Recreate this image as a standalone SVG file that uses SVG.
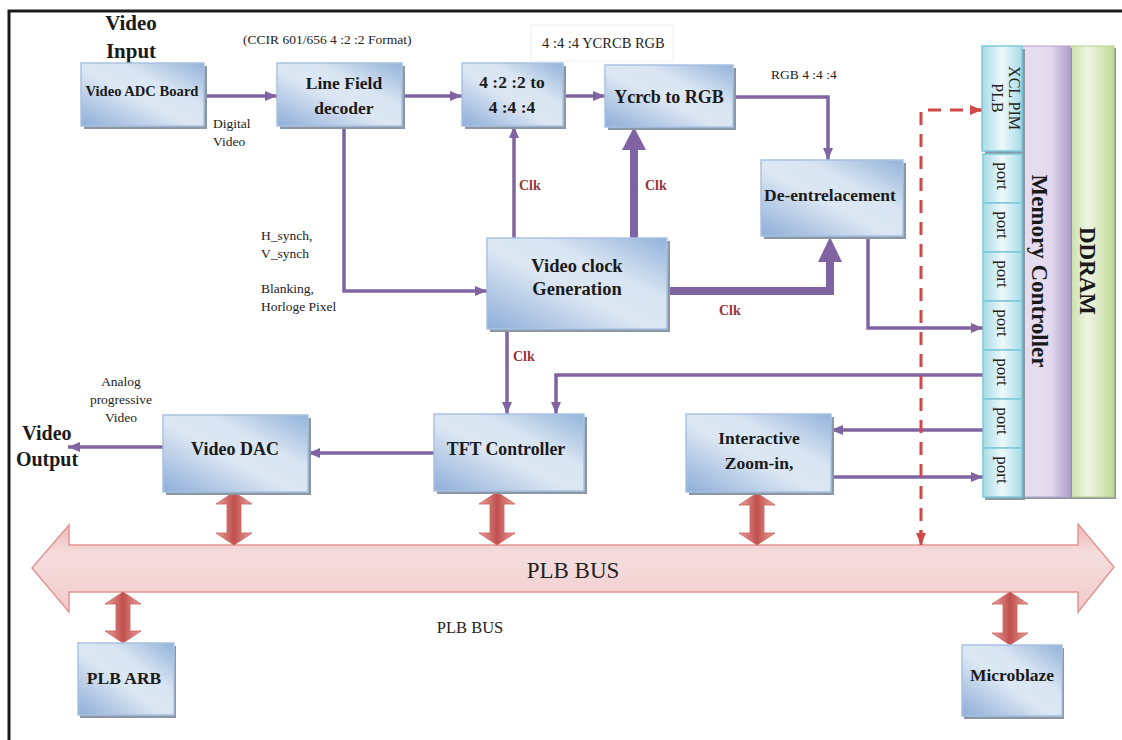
<svg xmlns="http://www.w3.org/2000/svg" width="1122" height="740" viewBox="0 0 1122 740">
<defs>
<linearGradient id="gBox" x1="0" y1="1" x2="1" y2="0">
<stop offset="0" stop-color="#8eadd8"/><stop offset="0.45" stop-color="#dce7f3"/><stop offset="0.65" stop-color="#d9e5f2"/><stop offset="1" stop-color="#92b2da"/>
</linearGradient>
<linearGradient id="gPort" x1="0" y1="0" x2="1" y2="0">
<stop offset="0" stop-color="#a6dbe6"/><stop offset="0.5" stop-color="#eef9fb"/><stop offset="1" stop-color="#a6dbe6"/>
</linearGradient>
<linearGradient id="gMem" x1="0" y1="0" x2="1" y2="0">
<stop offset="0" stop-color="#e6def0"/><stop offset="0.6" stop-color="#e2d9ee"/><stop offset="1" stop-color="#b09dca"/>
</linearGradient>
<linearGradient id="gDdr" x1="0" y1="0" x2="1" y2="0">
<stop offset="0" stop-color="#c9dea6"/><stop offset="0.4" stop-color="#eef5e3"/><stop offset="1" stop-color="#c3da98"/>
</linearGradient>
<linearGradient id="gRed" x1="0" y1="0" x2="1" y2="0">
<stop offset="0" stop-color="#e9a2a0"/><stop offset="0.5" stop-color="#c0504d"/><stop offset="1" stop-color="#e9a2a0"/>
</linearGradient>
<linearGradient id="gBus" x1="0" y1="0" x2="0" y2="1">
<stop offset="0" stop-color="#eeb8b8"/><stop offset="0.35" stop-color="#f6dede"/><stop offset="1" stop-color="#f1caca"/>
</linearGradient>
<marker id="ah" viewBox="0 0 12 10" refX="12" refY="5" markerWidth="12" markerHeight="10" markerUnits="userSpaceOnUse" orient="auto">
<path d="M0,0 L12,5 L0,10 z" fill="#8064a2"/>
</marker>
<marker id="ahr" viewBox="0 0 12 10" refX="12" refY="5" markerWidth="12" markerHeight="10" markerUnits="userSpaceOnUse" orient="auto">
<path d="M0,0 L12,5 L0,10 z" fill="#d04848"/>
</marker>
<style>
text{font-family:"Liberation Serif","Times New Roman",Tinos,"DejaVu Serif",serif}
.box{fill:url(#gBox);stroke:#a9c2e2;stroke-width:1.5}
.sh{fill:#8c97a6}
.lbl{font-weight:bold;fill:#1a1a1a;text-anchor:middle;font-size:17.5px}
.t{fill:#222;font-size:13.5px}
.clk{font-weight:bold;fill:#9b3333;font-size:14px}
.c{fill:none;stroke:#8064a2;stroke-width:3.5}
.thick{fill:none;stroke:#8064a2;stroke-width:8}
.port{fill:url(#gPort);stroke:#7cc8d8;stroke-width:1.5}
.pt{font-size:17px;fill:#222;text-anchor:middle}
.dbl{fill:url(#gRed);stroke:#c9605c;stroke-width:0.8}
</style>
</defs>

<!-- frame -->
<path d="M9,740 V11 H1122" fill="none" stroke="#1a1a1a" stroke-width="3"/>

<!-- free texts -->
<g id="labels">
<text class="lbl" x="131" y="30" style="font-size:21px">Video</text>
<text class="lbl" x="131" y="58" style="font-size:21px">Input</text>
<text class="t" x="243" y="44">(CCIR 601/656 4 :2 :2 Format)</text>
<rect x="531" y="25" width="142" height="36" fill="#fff" stroke="#eeeeee"/>
<text class="t" x="542" y="48" style="font-size:14.5px">4 :4 :4  YCRCB RGB</text>
<text class="t" x="771" y="79">RGB 4 :4 :4</text>
<text class="t" x="213" y="128">Digital</text>
<text class="t" x="213" y="146">Video</text>
<text class="t" x="261" y="240">H_synch,</text>
<text class="t" x="261" y="258">V_synch</text>
<text class="t" x="261" y="293">Blanking,</text>
<text class="t" x="261" y="311">Horloge Pixel</text>
<text class="t" x="121" y="386" text-anchor="middle">Analog</text>
<text class="t" x="121" y="404" text-anchor="middle">progressive</text>
<text class="t" x="121" y="422" text-anchor="middle">Video</text>
<text class="lbl" x="47" y="440" style="font-size:20px">Video</text>
<text class="lbl" x="47" y="466" style="font-size:20px">Output</text>
<text class="clk" x="519" y="190">Clk</text>
<text class="clk" x="645" y="190">Clk</text>
<text class="clk" x="719" y="315">Clk</text>
<text class="clk" x="513" y="361">Clk</text>
<text class="t" x="470" y="633" text-anchor="middle" style="font-size:16.5px">PLB BUS</text>
</g>

<!-- PLB bus -->
<g id="plb-bus">
<path d="M32,568 L69,525 L69,545 L1078,545 L1078,524 L1114,567 L1078,612 L1078,592 L69,592 L69,612 Z" fill="url(#gBus)" stroke="#e49494" stroke-width="1.5"/>
<text x="573" y="578" font-size="23" fill="#222" text-anchor="middle">PLB BUS</text>
</g>

<!-- connectors -->
<g id="connectors">
<path class="c" d="M204,96 H277" marker-end="url(#ah)"/>
<path class="c" d="M402,96 H462" marker-end="url(#ah)"/>
<path class="c" d="M563,96 H605" marker-end="url(#ah)"/>
<path class="c" d="M733,97 H828 V160" marker-end="url(#ah)"/>
<path class="c" d="M344,126 V291 H487" marker-end="url(#ah)"/>
<path class="c" d="M514,238 V126" marker-end="url(#ah)"/>
<path class="thick" d="M634,238 V148"/>
<path d="M622,150 L634,127 L646,150 Z" fill="#8064a2"/>
<path class="thick" d="M667,291 H830 V258"/>
<path d="M818,262 L830,237 L842,262 Z" fill="#8064a2"/>
<path class="c" d="M868,236 V328 H983" marker-end="url(#ah)"/>
<path class="c" d="M983,375 H556 V414" marker-end="url(#ah)"/>
<path class="c" d="M507,329 V414" marker-end="url(#ah)"/>
<path class="c" d="M434,453 H308" marker-end="url(#ah)"/>
<path class="c" d="M163,447 H68" marker-end="url(#ah)"/>
<path class="c" d="M983,430 H831" marker-end="url(#ah)"/>
<path class="c" d="M831,477 H983" marker-end="url(#ah)"/>
<path d="M921,543 V110 H982" fill="none" stroke="#d04848" stroke-width="3" stroke-dasharray="13,9"/>
<path d="M921,530 V545" fill="none" stroke="#d04848" stroke-width="3" marker-end="url(#ahr)"/>
<path d="M970,110 H982" fill="none" stroke="#d04848" stroke-width="3" marker-end="url(#ahr)"/>
<!-- bus double arrows -->
<path class="dbl" d="M234,492 L252,504 L241,504 L241,533 L252,533 L234,545 L216,533 L227,533 L227,504 L216,504 Z"/>
<path class="dbl" d="M497,492 L515,504 L504,504 L504,533 L515,533 L497,545 L479,533 L490,533 L490,504 L479,504 Z"/>
<path class="dbl" d="M757,493 L775,505 L764,505 L764,533 L775,533 L757,545 L739,533 L750,533 L750,505 L739,505 Z"/>
<path class="dbl" d="M123,592 L141,604 L130,604 L130,631 L141,631 L123,643 L105,631 L116,631 L116,604 L105,604 Z"/>
<path class="dbl" d="M1010,592 L1028,604 L1017,604 L1017,633 L1028,633 L1010,645 L992,633 L1003,633 L1003,604 L992,604 Z"/>
</g>

<!-- nodes -->
<g id="video-adc">
<rect class="sh" x="84" y="66" width="123" height="63"/>
<rect class="box" x="81" y="63" width="123" height="63"/>
<text class="lbl" x="142" y="96" style="font-size:14.6px">Video ADC Board</text>
</g>
<g id="line-field">
<rect class="sh" x="280" y="66" width="125" height="63"/>
<rect class="box" x="277" y="63" width="125" height="63"/>
<text class="lbl" x="344" y="89">Line Field</text>
<text class="lbl" x="344" y="114">decoder</text>
</g>
<g id="conv422">
<rect class="sh" x="465" y="66" width="101" height="63"/>
<rect class="box" x="462" y="63" width="101" height="63"/>
<text class="lbl" x="512" y="88">4 :2 :2 to</text>
<text class="lbl" x="512" y="113">4 :4 :4</text>
</g>
<g id="ycrcb">
<rect class="sh" x="608" y="68" width="128" height="62"/>
<rect class="box" x="605" y="65" width="128" height="62"/>
<text class="lbl" x="669" y="103" style="font-size:18px">Ycrcb to RGB</text>
</g>
<g id="deinterlace">
<rect class="sh" x="764" y="163" width="142" height="76"/>
<rect class="box" x="761" y="160" width="142" height="76"/>
<text class="lbl" x="830" y="201">De-entrelacement</text>
</g>
<g id="clockgen">
<rect class="sh" x="490" y="241" width="180" height="91"/>
<rect class="box" x="487" y="238" width="180" height="91"/>
<text class="lbl" x="577" y="272" style="font-size:18.5px">Video  clock</text>
<text class="lbl" x="577" y="295" style="font-size:18.5px">Generation</text>
</g>
<g id="tft">
<rect class="sh" x="437" y="417" width="150" height="77"/>
<rect class="box" x="434" y="414" width="150" height="77"/>
<text class="lbl" x="506" y="455" style="font-size:17.8px">TFT Controller</text>
</g>
<g id="dac">
<rect class="sh" x="166" y="418" width="145" height="77"/>
<rect class="box" x="163" y="415" width="145" height="77"/>
<text class="lbl" x="235" y="455" style="font-size:18px">Video DAC</text>
</g>
<g id="zoom">
<rect class="sh" x="689" y="417" width="145" height="78"/>
<rect class="box" x="686" y="414" width="145" height="78"/>
<text class="lbl" x="759" y="444">Interactive</text>
<text class="lbl" x="759" y="469">Zoom-in,</text>
</g>
<g id="plb-arb">
<rect class="sh" x="80" y="646" width="96" height="72"/>
<rect class="box" x="78" y="643" width="96" height="72"/>
<text class="lbl" x="124" y="684">PLB ARB</text>
</g>
<g id="microblaze">
<rect class="sh" x="964" y="648" width="100" height="71"/>
<rect class="box" x="962" y="645" width="100" height="71"/>
<text class="lbl" x="1012" y="681">Microblaze</text>
</g>

<g id="ddram">
<rect x="1072" y="48" width="44" height="451" fill="#8c97a6"/>
<rect x="1070" y="46" width="44" height="451" fill="url(#gDdr)" stroke="#b6cf8c" stroke-width="1"/>
<text class="lbl" transform="translate(1080,271) rotate(90)" style="font-size:23px">DDRAM</text>
</g>
<g id="memory-controller">
<rect x="1024" y="48" width="48" height="451" fill="#8c97a6"/>
<rect x="1022" y="46" width="48" height="451" fill="url(#gMem)" stroke="#b4a3cc" stroke-width="1"/>
<text class="lbl" transform="translate(1032,271) rotate(90)" style="font-size:23px">Memory Controller</text>
</g>
<g id="ports">
<rect x="985" y="49" width="40" height="451" fill="#8c97a6"/>
<rect class="port" x="982" y="46" width="40" height="105"/>
<text class="pt" transform="translate(1009,98) rotate(90)" style="font-size:16px">XCL  PIM</text>
<text class="pt" transform="translate(992,98) rotate(90)" style="font-size:16px">PLB</text>
<rect class="port" x="983" y="154" width="39" height="49"/>
<rect class="port" x="983" y="203" width="39" height="49"/>
<rect class="port" x="983" y="252" width="39" height="49"/>
<rect class="port" x="983" y="301" width="39" height="49"/>
<rect class="port" x="983" y="350" width="39" height="49"/>
<rect class="port" x="983" y="399" width="39" height="49"/>
<rect class="port" x="983" y="448" width="39" height="49"/>
<text class="pt" transform="translate(997,176) rotate(90)">port</text>
<text class="pt" transform="translate(997,225) rotate(90)">port</text>
<text class="pt" transform="translate(997,274) rotate(90)">port</text>
<text class="pt" transform="translate(997,323) rotate(90)">port</text>
<text class="pt" transform="translate(997,372) rotate(90)">port</text>
<text class="pt" transform="translate(997,421) rotate(90)">port</text>
<text class="pt" transform="translate(997,470) rotate(90)">port</text>
</g>
</svg>
